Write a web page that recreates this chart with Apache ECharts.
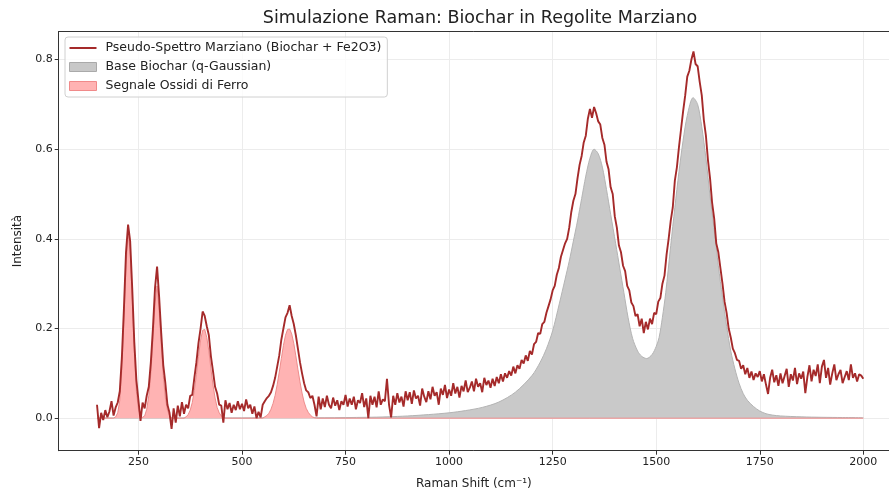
<!DOCTYPE html>
<html>
<head>
<meta charset="utf-8">
<title>Simulazione Raman</title>
<script src="https://cdn.jsdelivr.net/npm/echarts@6/dist/echarts.min.js"></script>
<style>
    html, body { margin: 0; padding: 0; background: #fff; }
    #chart { width: 889px; height: 492px; }
</style>
</head>
<body>
<div id="chart"></div>
<script>
// spettro rumoroso, un punto ogni 5 cm-1 da 150 a 2000
var spectrumStart = 150;
var spectrumStep = 5;
var spectrumIntensity = [
    0.030, -0.022, 0.012, -0.004, 0.018, 0.002, 0.015, 0.038, 0.006, 0.024,
    0.035, 0.060, 0.135, 0.245, 0.370, 0.432, 0.395, 0.290, 0.170, 0.085,
    0.040, -0.006, 0.035, 0.022, 0.050, 0.070, 0.125, 0.200, 0.290, 0.338,
    0.270, 0.190, 0.118, 0.078, 0.030, 0.012, -0.024, 0.022, -0.010, 0.028,
    0.004, 0.036, 0.010, 0.030, 0.022, 0.050, 0.052, 0.090, 0.125, 0.168,
    0.200, 0.238, 0.228, 0.205, 0.185, 0.138, 0.105, 0.070, 0.055, 0.030,
    0.028, -0.010, 0.040, 0.020, 0.034, 0.012, 0.030, 0.018, 0.038, 0.020,
    0.032, 0.016, 0.042, 0.022, 0.030, 0.010, 0.026, 0.000, 0.014, 0.002,
    0.030, 0.038, 0.045, 0.050, 0.058, 0.072, 0.090, 0.115, 0.140, 0.175,
    0.200, 0.225, 0.235, 0.252, 0.228, 0.210, 0.185, 0.155, 0.125, 0.100,
    0.078, 0.062, 0.058, 0.045, 0.050, 0.030, 0.004, 0.048, 0.020, 0.044,
    0.025, 0.050, 0.030, 0.022, 0.046, 0.028, 0.040, 0.018, 0.038, 0.030,
    0.052, 0.026, 0.044, 0.030, 0.048, 0.020, 0.040, 0.034, 0.056, 0.025,
    0.044, 0.000, 0.050, 0.030, 0.048, 0.024, 0.060, 0.030, 0.042, 0.038,
    0.088, 0.030, 0.002, 0.050, 0.030, 0.056, 0.035, 0.048, 0.026, 0.060,
    0.040, 0.058, 0.032, 0.062, 0.044, 0.050, 0.028, 0.066, 0.048, 0.036,
    0.060, 0.042, 0.070, 0.050, 0.058, 0.030, 0.066, 0.052, 0.074, 0.045,
    0.064, 0.050, 0.078, 0.055, 0.070, 0.046, 0.072, 0.060, 0.084, 0.058,
    0.068, 0.082, 0.060, 0.088, 0.070, 0.078, 0.058, 0.090, 0.074, 0.084,
    0.068, 0.088, 0.072, 0.092, 0.078, 0.098, 0.082, 0.100, 0.090, 0.105,
    0.095, 0.115, 0.100, 0.118, 0.110, 0.130, 0.122, 0.140, 0.128, 0.150,
    0.142, 0.165, 0.170, 0.190, 0.188, 0.210, 0.215, 0.235, 0.250, 0.265,
    0.285, 0.295, 0.320, 0.335, 0.360, 0.375, 0.390, 0.400, 0.425, 0.460,
    0.485, 0.500, 0.535, 0.565, 0.585, 0.615, 0.630, 0.668, 0.690, 0.670,
    0.694, 0.680, 0.662, 0.655, 0.625, 0.610, 0.572, 0.555, 0.515, 0.500,
    0.450, 0.425, 0.385, 0.370, 0.340, 0.328, 0.295, 0.285, 0.258, 0.250,
    0.228, 0.232, 0.205, 0.222, 0.190, 0.215, 0.198, 0.222, 0.210, 0.235,
    0.232, 0.260, 0.268, 0.300, 0.318, 0.365, 0.400, 0.440, 0.470, 0.530,
    0.560, 0.605, 0.645, 0.685, 0.720, 0.762, 0.775, 0.800, 0.818, 0.790,
    0.785, 0.750, 0.720, 0.665, 0.630, 0.575, 0.535, 0.480, 0.445, 0.390,
    0.370, 0.335, 0.300, 0.260, 0.235, 0.200, 0.180, 0.155, 0.145, 0.130,
    0.128, 0.110, 0.118, 0.098, 0.112, 0.090, 0.104, 0.085, 0.100, 0.092,
    0.105, 0.082, 0.098, 0.075, 0.054, 0.090, 0.108, 0.080, 0.096, 0.072,
    0.100, 0.078, 0.094, 0.110, 0.070, 0.098, 0.084, 0.112, 0.076, 0.100,
    0.088, 0.104, 0.056, 0.092, 0.118, 0.082, 0.108, 0.094, 0.120, 0.078,
    0.115, 0.130, 0.090, 0.112, 0.075, 0.100, 0.120, 0.085, 0.098, 0.108,
    0.078, 0.092, 0.105, 0.085, 0.120, 0.090, 0.100, 0.082, 0.098, 0.095, 0.088
];

// base biochar (bande D e G)
var baseShift = [150, 700, 800, 850, 900, 950, 1000, 1040, 1080, 1120, 1160, 1200, 1220, 1235, 1250, 1266,
    1280, 1290, 1300, 1310, 1320, 1330, 1340, 1350, 1360, 1370, 1380, 1390, 1402, 1412, 1422, 1432,
    1443, 1455, 1465, 1477, 1490, 1500, 1507, 1515, 1523, 1535, 1545, 1555, 1565, 1575, 1589, 1600,
    1610, 1620, 1630, 1640, 1650, 1660, 1670, 1680, 1690, 1700, 1710, 1720, 1735, 1750, 1765, 1780,
    1800, 1850, 1900, 1950, 2000];
var baseIntensity = [0.0005, 0.001, 0.002, 0.003, 0.005, 0.008, 0.012, 0.017, 0.024, 0.036, 0.058, 0.095, 0.125, 0.155, 0.195, 0.255,
    0.31, 0.35, 0.395, 0.44, 0.49, 0.54, 0.58, 0.60, 0.59, 0.56, 0.51, 0.455, 0.39, 0.335, 0.28, 0.225,
    0.178, 0.15, 0.138, 0.133, 0.142, 0.16, 0.18, 0.225, 0.28, 0.385, 0.47, 0.55, 0.62, 0.675, 0.715, 0.70,
    0.65, 0.58, 0.495, 0.42, 0.34, 0.27, 0.205, 0.15, 0.11, 0.078, 0.055, 0.04, 0.026, 0.016, 0.01, 0.007,
    0.005, 0.003, 0.002, 0.0015, 0.001];

// picchi ossidi di ferro
var oxideShift = [150, 190, 195, 200, 205, 210, 215, 220, 225, 230, 235, 240, 245, 250, 255, 260,
    265, 270, 275, 280, 285, 290, 295, 300, 305, 310, 315, 320, 325, 330,
    360, 365, 370, 375, 380, 385, 390, 395, 400, 405, 410, 415, 420, 425, 430, 435, 440, 445, 450, 455, 460,
    550, 555, 560, 565, 570, 575, 580, 585, 590, 595, 600, 605, 610, 615, 620, 625, 630, 635, 640,
    645, 650, 655, 660, 665, 670, 675, 680, 2000];
var oxideIntensity = [0, 0, 0.003, 0.012, 0.04, 0.11, 0.22, 0.34, 0.41, 0.375, 0.27, 0.15, 0.06, 0.02, 0.005, 0.002,
    0.005, 0.02, 0.05, 0.1, 0.175, 0.255, 0.295, 0.24, 0.165, 0.095, 0.045, 0.018, 0.006, 0,
    0, 0.003, 0.008, 0.018, 0.035, 0.062, 0.097, 0.138, 0.174, 0.196, 0.198, 0.18, 0.15, 0.11, 0.074, 0.045, 0.024, 0.012, 0.005, 0.002, 0,
    0, 0.003, 0.006, 0.011, 0.02, 0.033, 0.051, 0.075, 0.103, 0.133, 0.162, 0.185, 0.198, 0.199, 0.188, 0.167, 0.139, 0.109, 0.081,
    0.056, 0.036, 0.022, 0.013, 0.007, 0.003, 0.001, 0, 0];

var xTicks = [250, 500, 750, 1000, 1250, 1500, 1750, 2000];
var yTicks = [0, 0.2, 0.4, 0.6, 0.8];

var names = {
    line: 'Pseudo-Spettro Marziano (Biochar + Fe2O3)',
    base: 'Base Biochar (q-Gaussian)',
    oxide: 'Segnale Ossidi di Ferro'
};

function pairs(xs, ys) {
    var out = [];
    for (var i = 0; i < xs.length; i++) {
        out.push([xs[i], ys[i]]);
    }
    return out;
}

var spectrumData = [];
for (var i = 0; i < spectrumIntensity.length; i++) {
    spectrumData.push([spectrumStart + i * spectrumStep, spectrumIntensity[i]]);
}

var font = 'DejaVu Sans, sans-serif';
var xMin = 57.5, xMax = 2062;   // il bordo destro del grafico esce dall'immagine
var chart = echarts.init(document.getElementById('chart'), null, {renderer: 'canvas'});

var option = {
    animation: false,
    backgroundColor: '#ffffff',
    title: {
        text: 'Simulazione Raman: Biochar in Regolite Marziano',
        left: 475,
        top: 4,
        textAlign: 'center',
        textStyle: {fontFamily: font, fontSize: 17.5, fontWeight: 'normal', color: '#222'}
    },
    legend: {
        orient: 'vertical',
        left: 65,
        top: 37,
        padding: [4, 6, 4, 4],
        itemGap: 5,
        itemWidth: 27,
        itemHeight: 9,
        backgroundColor: 'rgba(255,255,255,0.8)',
        borderColor: '#d0d0d0',
        borderWidth: 1,
        borderRadius: 3,
        textStyle: {fontFamily: font, fontSize: 12.5, color: '#222', padding: [0, 0, 0, 4], lineHeight: 14},
        data: [
            {name: names.line, icon: 'path://M0,0 L27,0 L27,2 L0,2 Z', itemStyle: {color: '#a52a2a'}},
            {name: names.base, icon: 'rect', itemStyle: {color: '#c8c8c8', borderColor: '#aaaaaa', borderWidth: 1}},
            {name: names.oxide, icon: 'rect', itemStyle: {color: '#ffb3b3', borderColor: '#f08a8a', borderWidth: 1}}
        ]
    },
    grid: {
        left: 58.7,
        right: 0,
        top: 31.5,
        bottom: 41.3,
        containLabel: false,
        outerBoundsMode: 'none'
    },
    xAxis: [
        {
            type: 'value',
            min: xMin,
            max: xMax,
            name: 'Raman Shift (cm\u207B\u00B9)',
            nameLocation: 'middle',
            nameGap: 27,
            nameTextStyle: {fontFamily: font, fontSize: 12, color: '#222'},
            axisLine: {show: true, onZero: false, lineStyle: {color: '#333', width: 1}},
            axisTick: {show: true, length: 4, customValues: xTicks, lineStyle: {color: '#333'}},
            axisLabel: {
                customValues: xTicks, fontFamily: font, fontSize: 11, color: '#222', margin: 6,
                formatter: function (v) { return String(v); }
            },
            splitLine: {show: true, lineStyle: {color: '#ececec', width: 1}}
        },
        {
            // solo il bordo superiore
            type: 'value',
            position: 'top',
            min: xMin,
            max: xMax,
            axisLine: {show: true, onZero: false, lineStyle: {color: '#333', width: 1}},
            axisTick: {show: false},
            axisLabel: {show: false},
            splitLine: {show: false}
        }
    ],
    yAxis: {
        type: 'value',
        min: -0.0725,
        max: 0.8625,
        name: 'Intensit\u00E0',
        nameLocation: 'middle',
        nameGap: 35,
        nameTextStyle: {fontFamily: font, fontSize: 12, color: '#222'},
        axisLine: {show: true, lineStyle: {color: '#333', width: 1}},
        axisTick: {show: true, length: 4, customValues: yTicks, lineStyle: {color: '#333'}},
        axisLabel: {
            customValues: yTicks, fontFamily: font, fontSize: 11, color: '#222', margin: 6,
            formatter: function (v) { return v.toFixed(1); }
        },
        splitLine: {show: true, lineStyle: {color: '#ececec', width: 1}}
    },
    series: [
        {
            name: names.line,
            type: 'line',
            data: spectrumData,
            symbol: 'none',
            z: 5,
            itemStyle: {color: '#a52a2a'},
            lineStyle: {color: '#a52a2a', width: 1.9}
        },
        {
            name: names.base,
            type: 'line',
            data: pairs(baseShift, baseIntensity),
            symbol: 'none',
            smooth: 0.3,
            z: 2,
            itemStyle: {color: '#c8c8c8'},
            lineStyle: {color: '#b4b4b4', width: 1},
            areaStyle: {color: '#c9c9c9', opacity: 1, origin: 0}
        },
        {
            name: names.oxide,
            type: 'line',
            data: pairs(oxideShift, oxideIntensity),
            symbol: 'none',
            z: 3,
            itemStyle: {color: '#ffb3b3'},
            lineStyle: {color: '#ee8c8c', width: 1},
            areaStyle: {color: '#ffb3b3', opacity: 1, origin: 0}
        }
    ]
};

chart.setOption(option);
</script>
</body>
</html>
